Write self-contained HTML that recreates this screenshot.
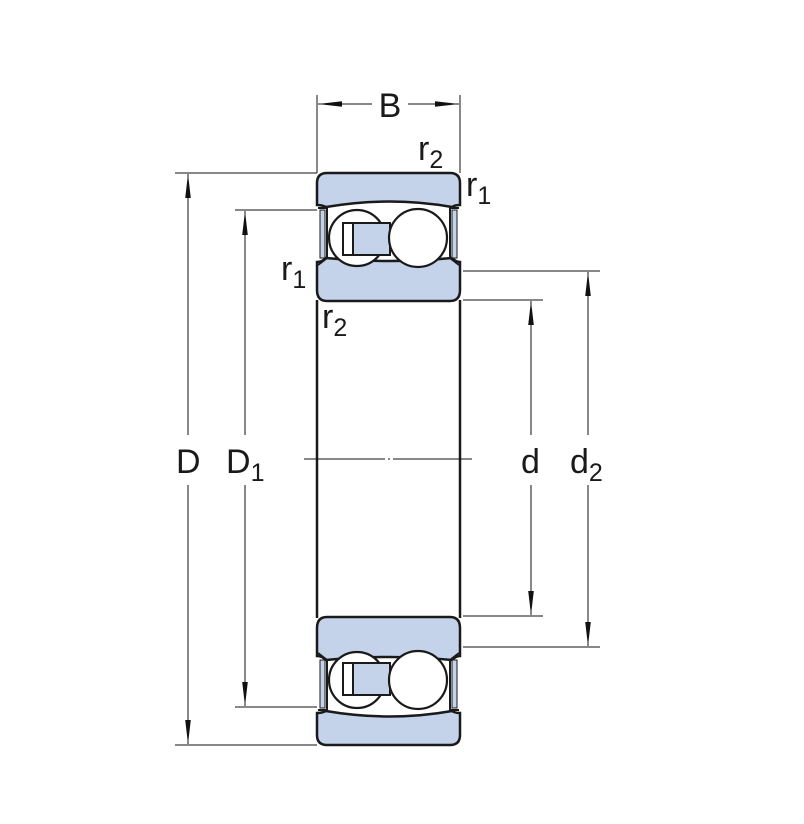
<!DOCTYPE html>
<html><head><style>html,body{margin:0;padding:0;background:#fff}svg{display:block}</style></head>
<body>
<svg width="804" height="824" viewBox="0 0 804 824" xmlns="http://www.w3.org/2000/svg" font-family="Liberation Sans, sans-serif">
<defs>
<marker id="a" viewBox="0 0 24 8" refX="24" refY="4" markerWidth="24" markerHeight="8" markerUnits="userSpaceOnUse" orient="auto-start-reverse"><path d="M0,1.2 L24,4 L0,6.8 Z" fill="#111"/></marker>
<g id="half">
  <!-- outer ring -->
  <path d="M317,183 Q317,173 327,173 L450,173 Q460,173 460,183 L460,205 Q455,205 452,207 Q390,196 326,207 Q322,205 317,205 Z" fill="#c5d3ea" stroke="#1a1a1a" stroke-width="2.5"/>
  <!-- inner ring -->
  <path d="M317,262 Q322,262 326,258 Q390,264 452,258 Q456,262 460,262 L460,290 Q460,301 450,301 L327,301 Q317,301 317,290 Z" fill="#c5d3ea" stroke="#1a1a1a" stroke-width="2.5"/>
  <!-- shields -->
  <path d="M318,208 L327,208 L327,258 L318,265" fill="none" stroke="#1a1a1a" stroke-width="2"/>
  <rect x="320" y="210" width="5" height="48" fill="#c5d3ea" stroke="#1a1a1a" stroke-width="1"/>
  <path d="M459,208 L450,208 L450,258 L459,265" fill="none" stroke="#1a1a1a" stroke-width="2"/>
  <rect x="452" y="210" width="5" height="48" fill="#c5d3ea" stroke="#1a1a1a" stroke-width="1"/>
  <!-- balls -->
  <circle cx="357" cy="238" r="28" fill="#fff" stroke="#1a1a1a" stroke-width="2.2"/>
  <rect x="343" y="223" width="47" height="32" fill="#c5d3ea" stroke="#1a1a1a" stroke-width="2"/>
  <rect x="343" y="223" width="10" height="32" fill="#fff" stroke="#1a1a1a" stroke-width="2"/>
  <circle cx="418" cy="238" r="29" fill="#fff" stroke="#1a1a1a" stroke-width="2.2"/>
</g>
</defs>
<use href="#half"/>
<use href="#half" transform="translate(0,918) scale(1,-1)"/>
<!-- bore lines -->
<line x1="317" y1="300" x2="317" y2="618" stroke="#1a1a1a" stroke-width="2.5"/>
<line x1="460" y1="300" x2="460" y2="618" stroke="#1a1a1a" stroke-width="2.5"/>
<!-- centerline -->
<line x1="304" y1="459" x2="385" y2="459" stroke="#111" stroke-width="1"/>
<line x1="388" y1="459" x2="390" y2="459" stroke="#111" stroke-width="1"/>
<line x1="393" y1="459" x2="472" y2="459" stroke="#111" stroke-width="1"/>
<g stroke="#111" stroke-width="1" fill="none">
  <!-- B -->
  <line x1="317" y1="95" x2="317" y2="173"/>
  <line x1="460" y1="95" x2="460" y2="173"/>
  <line x1="372" y1="104" x2="318" y2="104" marker-end="url(#a)"/>
  <line x1="408" y1="104" x2="459" y2="104" marker-end="url(#a)"/>
  <!-- D -->
  <line x1="175" y1="173" x2="317" y2="173"/>
  <line x1="175" y1="745" x2="317" y2="745"/>
  <line x1="188" y1="435" x2="188" y2="174" marker-end="url(#a)"/>
  <line x1="188" y1="485" x2="188" y2="744" marker-end="url(#a)"/>
  <!-- D1 -->
  <line x1="235" y1="210" x2="317" y2="210"/>
  <line x1="235" y1="707" x2="317" y2="707"/>
  <line x1="245" y1="435" x2="245" y2="211" marker-end="url(#a)"/>
  <line x1="245" y1="485" x2="245" y2="706" marker-end="url(#a)"/>
  <!-- d -->
  <line x1="463" y1="300" x2="543" y2="300"/>
  <line x1="463" y1="616" x2="543" y2="616"/>
  <line x1="531" y1="435" x2="531" y2="301" marker-end="url(#a)"/>
  <line x1="531" y1="485" x2="531" y2="615" marker-end="url(#a)"/>
  <!-- d2 -->
  <line x1="463" y1="271" x2="600" y2="271"/>
  <line x1="463" y1="647" x2="600" y2="647"/>
  <line x1="588" y1="435" x2="588" y2="272" marker-end="url(#a)"/>
  <line x1="588" y1="485" x2="588" y2="646" marker-end="url(#a)"/>
</g>
<g fill="#1a1a1a" font-size="34">
  <text x="390" y="117" text-anchor="middle">B</text>
  <text x="176" y="473">D</text>
  <text x="226" y="473">D<tspan font-size="25" dy="8">1</tspan></text>
  <text x="521" y="473">d</text>
  <text x="570" y="473">d<tspan font-size="25" dy="8">2</tspan></text>
  <text x="418" y="160">r<tspan font-size="25" dy="8">2</tspan></text>
  <text x="466" y="196">r<tspan font-size="25" dy="8">1</tspan></text>
  <text x="281" y="280">r<tspan font-size="25" dy="8">1</tspan></text>
  <text x="322" y="328">r<tspan font-size="25" dy="8">2</tspan></text>
</g>
</svg>
</body></html>
